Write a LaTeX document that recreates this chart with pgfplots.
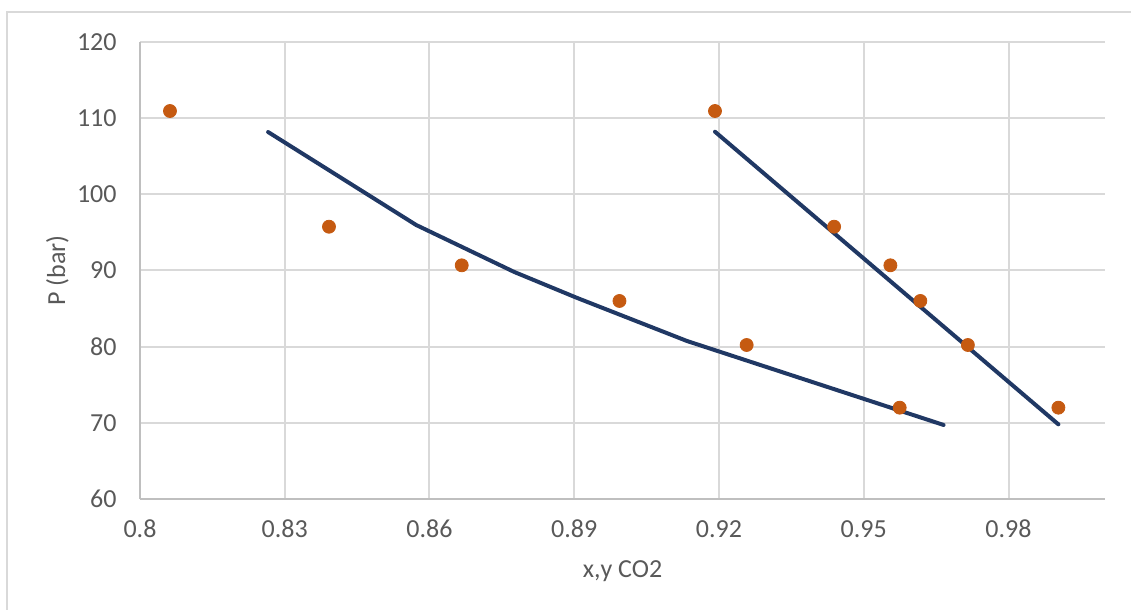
\documentclass[border=0pt]{standalone}
\usepackage{pgfplots}
\pgfplotsset{compat=1.18}
\usepackage{fontspec}
\setmainfont{Carlito}
\definecolor{gridc}{HTML}{D9D9D9}
\definecolor{axc}{HTML}{BFBFBF}
\definecolor{txt}{HTML}{595959}
\definecolor{dots}{HTML}{C55A11}
\definecolor{lin}{HTML}{203864}
\begin{document}
\begin{tikzpicture}
\useasboundingbox (-70pt,-55.5pt) rectangle (495.5pt,249.5pt);
\draw[gridc, line width=0.6pt] (-66.5pt,-60pt) -- (-66.5pt,243.5pt) -- (500pt,243.5pt);
\begin{axis}[
  at={(0,0)}, anchor=south west,
  scale only axis, width=482.5pt, height=228.5pt,
  xmin=0.8, xmax=1.0, ymin=60, ymax=120,
  xtick={0.8,0.83,0.86,0.89,0.92,0.95,0.98},
  xticklabels={0.8,0.83,0.86,0.89,0.92,0.95,0.98},
  ytick={60,70,80,90,100,110,120},
  yticklabels={60,70,80,90,100,110,120},
  grid=major,
  major grid style={gridc, line width=1pt},
  axis x line*=bottom, axis y line*=left,
  axis line style={axc, line width=1pt, -},
  tick style={draw=none},
  /pgf/number format/assume math mode=true,
  tick label style={font=\fontsize{13}{15}\selectfont, text=txt},
  xticklabel style={anchor=center, yshift=-15pt},
  yticklabel style={anchor=east, inner sep=0pt, xshift=-11.5pt},
  xlabel={x,y CO2},
  ylabel={P (bar)},
  label style={font=\fontsize{13}{15}\selectfont, text=txt},
  xlabel style={at={(axis description cs:0.5,-0.17287)}, anchor=base},
  ylabel style={at={(axis description cs:-0.0777,0.5)}, anchor=base},
  clip=false,
]
\addplot[lin, line width=2pt, line cap=round, line join=round, mark=none] coordinates {
  (0.82655,108.18) (0.85725,95.97) (0.87759,89.80) (0.89062,86.39) (0.91338,80.74) (0.96655,69.72)
};
\addplot[lin, line width=2pt, line cap=round, line join=round, mark=none] coordinates {
  (0.91917,108.22) (0.99034,69.80)
};
\addplot[only marks, mark=*, mark size=3.25pt, color=dots] coordinates {
  (0.80621,110.94) (0.83917,95.75) (0.86668,90.68) (0.89937,86.00) (0.92573,80.22) (0.95745,71.99)
};
\addplot[only marks, mark=*, mark size=3.25pt, color=dots] coordinates {
  (0.91917,110.94) (0.94386,95.75) (0.95552,90.68) (0.96173,86.00) (0.97158,80.22) (0.99034,71.99)
};
\end{axis}
\end{tikzpicture}
\end{document}
